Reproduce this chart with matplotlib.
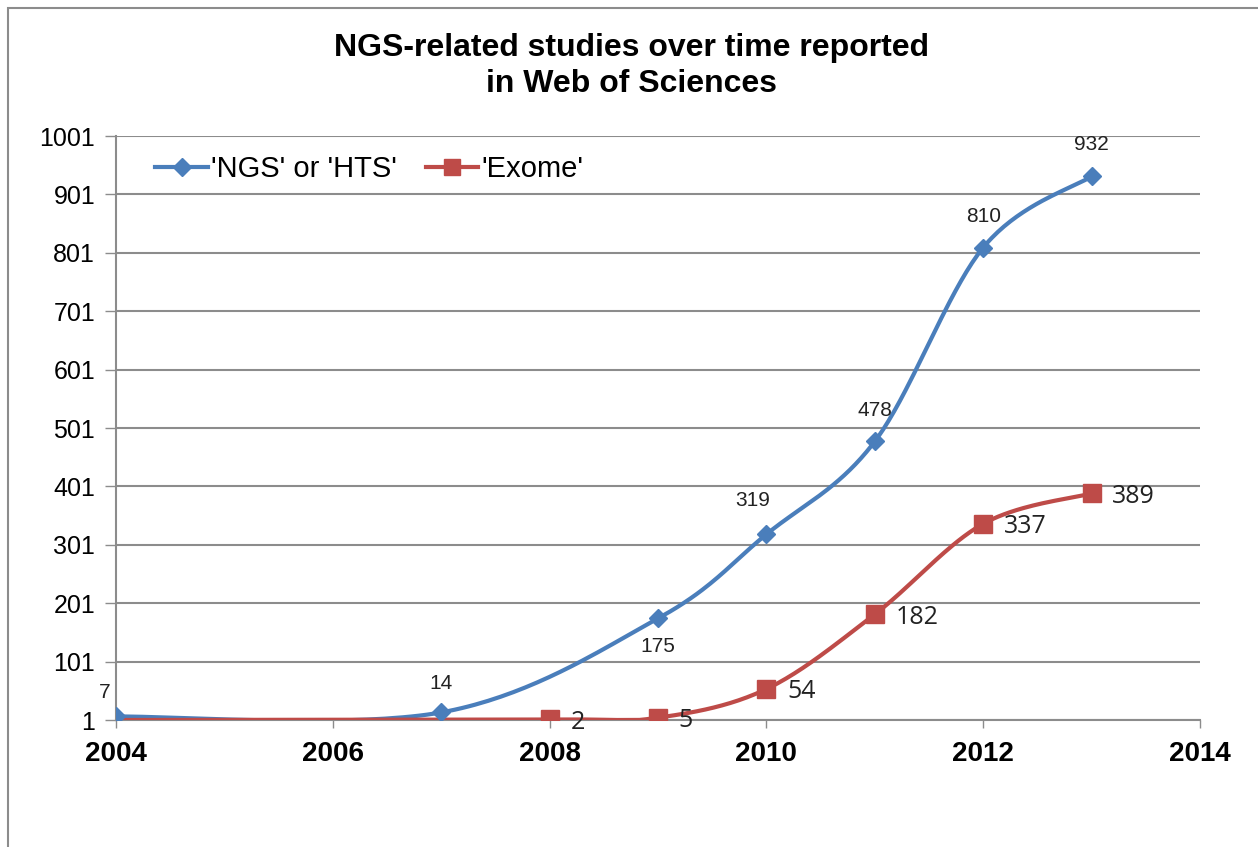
import numpy as np
import matplotlib.pyplot as plt
from matplotlib.patches import Rectangle

# data
ngs_years = [2004, 2007, 2009, 2010, 2011, 2012, 2013]
ngs_counts = [7, 14, 175, 319, 478, 810, 932]
exome_years = [2004, 2008, 2009, 2010, 2011, 2012, 2013]
exome_counts = [1, 2, 5, 54, 182, 337, 389]

BLUE = '#4a7ebb'
RED = '#be4b48'
GRID = '#8c8c8c'


def smooth(xs, ys, n=40):
    """Excel-style smoothed line: Catmull-Rom control points into cubic Beziers."""
    pts = np.column_stack([xs, ys]).astype(float)
    out = [pts[0]]
    for i in range(len(pts) - 1):
        p0 = pts[max(i - 1, 0)]
        p1 = pts[i]
        p2 = pts[i + 1]
        p3 = pts[min(i + 2, len(pts) - 1)]
        c1 = p1 + (p2 - p0) / 6
        c2 = p2 - (p3 - p1) / 6
        t = np.linspace(0, 1, n)[1:, None]
        seg = ((1 - t) ** 3) * p1 + 3 * ((1 - t) ** 2) * t * c1 + 3 * (1 - t) * t ** 2 * c2 + t ** 3 * p2
        out.extend(seg)
    out = np.array(out)
    return out[:, 0], out[:, 1]


plt.rcParams['font.family'] = ['Liberation Sans', 'DejaVu Sans']

fig = plt.figure(figsize=(12.58, 8.47), dpi=100)
ax = fig.add_axes([116 / 1258, 1 - 720 / 847, (1200 - 116) / 1258, (720 - 136) / 847])

# outer chart frame (only left and top edges show in the crop)
fig.patches.append(Rectangle((8 / 1258, -0.05), 1.1, 1 - 8 / 847 + 0.05,
                             transform=fig.transFigure, fill=False,
                             edgecolor='#8c8c8c', linewidth=1.5))

sx, sy = smooth(ngs_years, ngs_counts)
ax.plot(sx, sy, color=BLUE, lw=3, zorder=3)
ax.plot(ngs_years, ngs_counts, linestyle='none', marker='D', ms=9, color=BLUE, zorder=4)

ex, ey = smooth(exome_years, exome_counts)
ey = np.maximum(ey, 1)
ax.plot(ex, ey, color=RED, lw=3, zorder=3)
ax.plot(exome_years[1:], exome_counts[1:], linestyle='none', marker='s', ms=13,
        color=RED, zorder=4)

# legend proxies
ax.plot([], [], color=BLUE, lw=3, marker='D', ms=9, label="'NGS' or 'HTS'")
ax.plot([], [], color=RED, lw=3, marker='s', ms=12, label="'Exome'")
ax.legend(loc='upper left', bbox_to_anchor=(0.012, 1.012), ncol=2, frameon=False,
          fontsize=21, handlelength=1.8, columnspacing=1.0, handletextpad=0.1)

# data labels
ngs_offsets = [(-8, 17), (0, 21), (0, -20), (-10, 24), (0, 22), (0, 22), (0, 23)]
for x, y, (dx, dy) in zip(ngs_years, ngs_counts, ngs_offsets):
    ax.annotate(str(y), (x, y), xytext=(dx, dy), textcoords='offset points',
                ha='center', va='center', fontsize=15, color='#222222')
for x, y in zip(exome_years[1:], exome_counts[1:]):
    ax.annotate(str(y), (x, y), xytext=(15, -2), textcoords='offset points',
                ha='left', va='center', fontsize=18, color='#222222',
                family=['Open Sans', 'DejaVu Sans'])

ax.set_xlim(2004, 2014)
ax.set_ylim(1, 1001)
ax.set_xticks(range(2004, 2015, 2))
ax.set_yticks(range(1, 1002, 100))
ax.tick_params(axis='x', labelsize=20, length=6, width=1, color=GRID, pad=9)
ax.tick_params(axis='y', labelsize=18, length=8, width=1, color=GRID, pad=7)
for lbl in ax.get_xticklabels():
    lbl.set_fontweight('bold')

ax.grid(axis='y', color=GRID, lw=1.5)
ax.set_axisbelow(True)
for side in ('top', 'right'):
    ax.spines[side].set_visible(False)
for side in ('left', 'bottom'):
    ax.spines[side].set_color(GRID)
    ax.spines[side].set_linewidth(1.5)

fig.text(632 / 1258, 1 - 66 / 847, 'NGS-related studies over time reported\nin Web of Sciences',
         ha='center', va='center', fontsize=23, fontweight='bold', linespacing=1.25)

fig.savefig('out.png', dpi=100)
